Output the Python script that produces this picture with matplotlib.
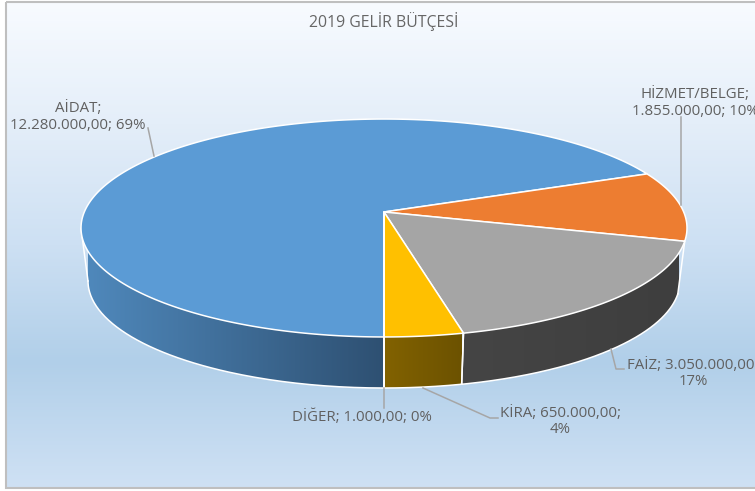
import numpy as np
import matplotlib
matplotlib.use("Agg")
import matplotlib.pyplot as plt
from matplotlib.colors import LinearSegmentedColormap
from matplotlib.patches import Polygon, Rectangle

plt.rcParams['font.family'] = ['Open Sans', 'DejaVu Sans']

title = "2019 GELİR BÜTÇESİ"
categories = ["AİDAT", "HİZMET/BELGE", "FAİZ", "KİRA", "DİĞER"]
values = [12280000, 1855000, 3050000, 650000, 1000]
amount_text = ["12.280.000,00", "1.855.000,00", "3.050.000,00", "650.000,00", "1.000,00"]
percent_text = ["69%", "10%", "17%", "4%", "0%"]

top_colors = ["#5b9bd5", "#ed7d31", "#a5a5a5", "#ffc000", "#4472c4"]
side_left = ["#4f88bb", "#c0652a", "#454545", "#826200", "#2f5274"]
side_right = ["#2e5072", "#b05c25", "#3e3e3e", "#6c5200", "#2f5274"]
wall_shown = [True, False, True, True, True]

# perspective of the pie, in pixels
cx = 384
persp = 0.1468
top_w, top_h, top_mid = 299.7, -75.5, 212
low_scale, low_w, low_h, low_mid = 0.977, 296, 107, 281


def project_top(angle):
    # angle is clockwise from north, in degrees
    u = np.sin(np.radians(angle))
    v = np.cos(np.radians(angle))
    d = 1 + persp * v
    return cx + top_w * u / d, (top_h * v + top_mid) / d


def project_low(angle):
    x, _ = project_top(angle)
    dx = (x - cx) * low_scale
    s = np.sqrt(np.clip(1 - (dx / low_w) ** 2, 0, 1))
    return cx + dx, low_mid + low_h * s


fig = plt.figure(figsize=(7.55, 4.91), dpi=100)
ax = fig.add_axes([0, 0, 1, 1])
ax.axis('off')

# background
bg_cmap = LinearSegmentedColormap.from_list(
    'bg', [(0, "#f8fbff"), (0.25, "#e4eef9"), (0.5, "#cde0f3"), (0.74, "#b1cfe9"), (1, "#cfe1f4")])
ax.imshow(np.linspace(0, 1, 256).reshape(-1, 1), cmap=bg_cmap, extent=[6, 760, 488, 2],
          aspect='auto', zorder=0)
ax.add_patch(Rectangle((6, 2), 760, 486, fill=False, edgecolor="#bfbfbf", lw=1.5, zorder=1))

# slices start at the bottom and go clockwise, the thin last one ends there
total = sum(values)
sweeps = [v / total * 360 for v in values]
starts = [180 + sum(sweeps[:i]) for i in range(len(values))]

# side walls, front part of the rim only
for i in range(len(values)):
    if not wall_shown[i]:
        continue
    angles = np.linspace(starts[i], starts[i] + sweeps[i], 400)
    angles = angles[np.cos(np.radians(angles)) < -persp]
    ux, uy = project_top(angles)
    lx, ly = project_low(angles)
    pts = np.column_stack([np.r_[ux, lx[::-1]], np.r_[uy, ly[::-1]]])
    left, right = lx.min(), lx.max()
    if right - left < 1:
        right = left + 1
    wall = Polygon(pts, closed=True, facecolor='none', edgecolor='none', zorder=2)
    ax.add_patch(wall)
    cmap = LinearSegmentedColormap.from_list('w', [side_left[i], side_right[i]])
    im = ax.imshow(np.linspace(0, 1, 256).reshape(1, -1), cmap=cmap, aspect='auto',
                   extent=[left, right, 400, 100], zorder=2)
    im.set_clip_path(wall)
    # white edges of the wall
    ax.plot(lx, ly, color="white", lw=1.1, zorder=3)
    for a in (angles[0], angles[-1]):
        ex0, ey0 = project_top(a)
        ex1, ey1 = project_low(a)
        ax.plot([ex0, ex1], [ey0, ey1], color="white", lw=1.1, zorder=3)

# top face
for i in range(len(values)):
    angles = np.linspace(starts[i], starts[i] + sweeps[i], 300)
    ux, uy = project_top(angles)
    ax.fill(np.r_[cx, ux], np.r_[top_mid, uy], facecolor=top_colors[i],
            edgecolor="white", lw=1.1, joinstyle='round', zorder=4)

# leader lines
leaders = [
    ([148, 154], [128, 156]),
    ([681, 681], [117, 205]),
    ([611, 616, 624], [349, 369, 369]),
    ([423, 490, 498], [388, 418, 418]),
    ([384, 384], [388, 408]),
]
for xs, ys in leaders:
    ax.plot(xs, ys, color="#a6a6a6", lw=1.1, zorder=5)

# labels
label_lines = [
    [categories[0] + ";", amount_text[0] + "; " + percent_text[0]],
    [categories[1] + ";", amount_text[1] + "; " + percent_text[1]],
    [categories[2] + "; " + amount_text[2] + ";", percent_text[2]],
    [categories[3] + "; " + amount_text[3] + ";", percent_text[3]],
    [categories[4] + "; " + amount_text[4] + "; " + percent_text[4]],
]
label_pos = [(78, 117), (695, 103), (693, 373.5), (560, 421.5), (362, 417.5)]
for lines, (x, y) in zip(label_lines, label_pos):
    ax.text(x, y, "\n".join(lines), ha='center', va='center', fontsize=10.8,
            color="#606060", linespacing=1.12, zorder=6)

ax.text(384, 21, title, ha='center', va='center', fontsize=11.4, color="#666666", zorder=6)

ax.set_xlim(0, 755)
ax.set_ylim(491, 0)
fig.savefig('out.png', dpi=100)
